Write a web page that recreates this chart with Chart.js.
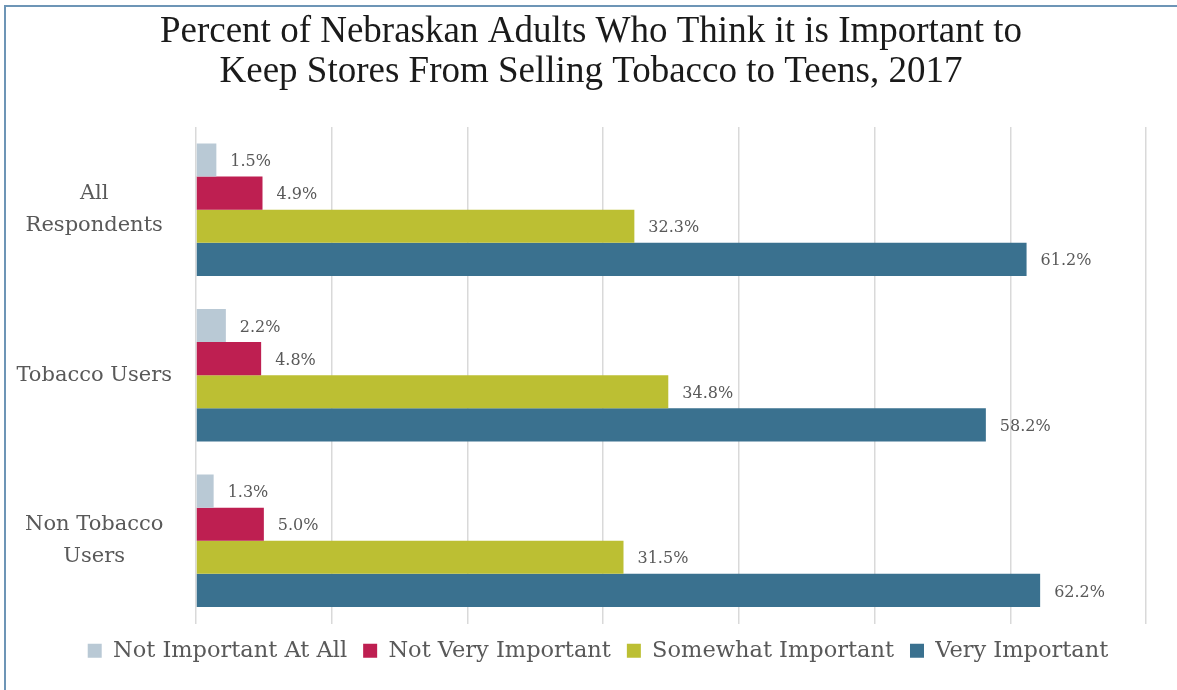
<!DOCTYPE html>
<html>
<head>
<meta charset="utf-8">
<script src="https://cdn.jsdelivr.net/npm/chart.js@4"></script>
<style>
  html, body { margin: 0; padding: 0; background: #ffffff; }
  #wrap { position: relative; width: 1177px; height: 690px; overflow: hidden; }
  #frame { position: absolute; left: 4px; top: 5px; width: 1200px; height: 720px;
           border-top: 2px solid #6d95b6; border-left: 2px solid #6d95b6; box-sizing: border-box; }
  canvas { position: absolute; left: 0; top: 0; }
</style>
</head>
<body>
<div id="wrap">
  <div id="frame"></div>
  <canvas id="chart" width="1177" height="690"></canvas>
</div>
<script>
// Respondent groups (multi-line labels as arrays)
const categories = [["All", "Respondents"], "Tobacco Users", ["Non Tobacco", "Users"]];

// Share of adults (%) by level of importance
const notImportantAtAll = [1.5, 2.2, 1.3];
const notVeryImportant  = [4.9, 4.8, 5.0];
const somewhatImportant = [32.3, 34.8, 31.5];
const veryImportant     = [61.2, 58.2, 62.2];

const seriesNames = ["Not Important At All", "Not Very Important", "Somewhat Important", "Very Important"];
const seriesColors = ["#b9c9d5", "#be1f51", "#bcbf33", "#3a718f"];

const labelFont = "'DejaVu Serif', serif";
const textGray = "#595959";

// Writes each bar's value just past its end
const valueLabels = {
  id: 'valueLabels',
  afterDatasetsDraw(chart) {
    const ctx = chart.ctx;
    ctx.save();
    ctx.font = "16px " + labelFont;
    ctx.fillStyle = textGray;
    ctx.textAlign = 'left';
    ctx.textBaseline = 'middle';
    chart.data.datasets.forEach((ds, i) => {
      const meta = chart.getDatasetMeta(i);
      meta.data.forEach((bar, j) => {
        ctx.fillText(ds.data[j].toFixed(1) + '%', bar.x + 14, bar.y + 2);
      });
    });
    ctx.restore();
  }
};

// Centres the title and legend over the region right of the frame edge
const centreBlocks = {
  id: 'centreBlocks',
  afterLayout(chart) {
    if (chart.titleBlock) chart.titleBlock.left = 36;
  },
  beforeDraw(chart) {
    if (chart.legend) chart.legend.left = 50;
  }
};

const values = [notImportantAtAll, notVeryImportant, somewhatImportant, veryImportant];

new Chart(document.getElementById('chart'), {
  type: 'bar',
  data: {
    labels: categories,
    datasets: values.map((v, i) => ({
      label: seriesNames[i],
      data: v,
      backgroundColor: seriesColors[i],
      borderWidth: 0,
      categoryPercentage: 0.8,
      barPercentage: 1.0
    }))
  },
  options: {
    indexAxis: 'y',
    responsive: false,
    animation: false,
    layout: { padding: { left: 0, right: 31, top: 0, bottom: 18 } },
    scales: {
      x: {
        min: 0,
        max: 70,
        ticks: { display: false, stepSize: 10 },
        grid: { color: '#d9d9d9', lineWidth: 1.5, drawTicks: false },
        border: { display: false }
      },
      y: {
        ticks: {
          color: textGray,
          font: { family: labelFont, size: 21, lineHeight: 1.55 },
          crossAlign: 'center',
          padding: 24
        },
        grid: { display: false, drawTicks: false },
        border: { display: false },
        afterFit(scale) { scale.width = 196; }
      }
    },
    plugins: {
      title: {
        display: true,
        text: ["Percent of Nebraskan Adults Who Think it is Important to",
               "Keep Stores From Selling Tobacco to Teens, 2017"],
        color: '#1a1a1a',
        font: { family: "'Liberation Serif', serif", size: 37, weight: 'normal', lineHeight: 1.08 },
        padding: { top: 12, bottom: 35 }
      },
      legend: {
        position: 'bottom',
        labels: {
          color: textGray,
          font: { family: labelFont, size: 22.5 },
          boxWidth: 14,
          boxHeight: 14,
          padding: 16
        }
      },
      tooltip: { enabled: false }
    }
  },
  plugins: [valueLabels, centreBlocks]
});
</script>
</body>
</html>
